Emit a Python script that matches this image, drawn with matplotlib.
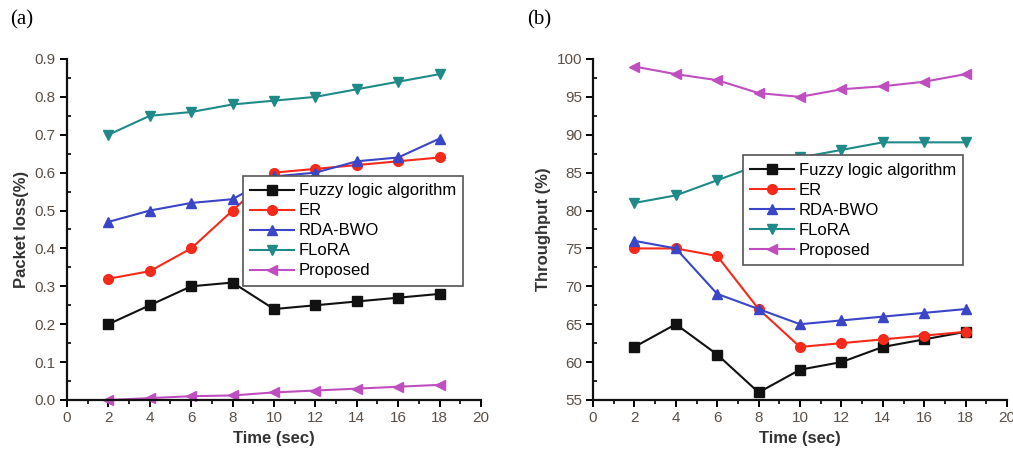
import matplotlib
matplotlib.use("Agg")
import matplotlib.pyplot as plt
from matplotlib.ticker import MultipleLocator

plt.rcParams['font.family'] = ['Liberation Sans', 'DejaVu Sans']

time = [2, 4, 6, 8, 10, 12, 14, 16, 18]
series_names = ["Fuzzy logic algorithm", "ER", "RDA-BWO", "FLoRA", "Proposed"]

loss_fuzzy = [0.20, 0.25, 0.30, 0.31, 0.24, 0.25, 0.26, 0.27, 0.28]
loss_er = [0.32, 0.34, 0.40, 0.50, 0.60, 0.61, 0.62, 0.63, 0.64]
loss_rda = [0.47, 0.50, 0.52, 0.53, 0.59, 0.60, 0.63, 0.64, 0.69]
loss_flora = [0.70, 0.75, 0.76, 0.78, 0.79, 0.80, 0.82, 0.84, 0.86]
loss_proposed = [0.0, 0.005, 0.01, 0.012, 0.02, 0.025, 0.03, 0.035, 0.04]

thr_fuzzy = [62, 65, 61, 56, 59, 60, 62, 63, 64]
thr_er = [75, 75, 74, 67, 62, 62.5, 63, 63.5, 64]
thr_rda = [76, 75, 69, 67, 65, 65.5, 66, 66.5, 67]
thr_flora = [81, 82, 84, 86, 87, 88, 89, 89, 89]
thr_proposed = [99, 98, 97.2, 95.5, 95, 96, 96.4, 97, 98]

colors = ["#111111", "#f52a1a", "#3a45c8", "#1f8a88", "#c04ec0"]
markers = ["s", "o", "^", "v", "<"]

fig = plt.figure(figsize=(10.13, 4.53), dpi=100)
ax1 = fig.add_axes([0.0661, 0.1170, 0.4087, 0.7528])
ax2 = fig.add_axes([0.5854, 0.1170, 0.4087, 0.7528])

tick_color = "#5a5048"

def style(ax, ymin, ymax, ymaj, ymin_loc, ylabel, fmt):
    ax.set_xlim(0, 20)
    ax.set_ylim(ymin, ymax)
    ax.spines['top'].set_visible(False)
    ax.spines['right'].set_visible(False)
    for s in ['left', 'bottom']:
        ax.spines[s].set_linewidth(1.6)
        ax.spines[s].set_color('#111111')
    ax.xaxis.set_major_locator(MultipleLocator(2))
    ax.xaxis.set_minor_locator(MultipleLocator(1))
    ax.yaxis.set_major_locator(MultipleLocator(ymaj))
    ax.yaxis.set_minor_locator(MultipleLocator(ymin_loc))
    ax.tick_params(axis='x', which='major', direction='out', length=5, width=1.4, labelsize=11, labelcolor=tick_color, pad=3)
    ax.tick_params(axis='x', which='minor', direction='out', length=3, width=1.2)
    ax.tick_params(axis='y', which='major', direction='out', length=5, width=1.4, labelsize=11, labelcolor=tick_color, pad=3)
    ax.tick_params(axis='y', which='minor', direction='in', length=3, width=1.2)
    ax.yaxis.set_major_formatter(plt.FormatStrFormatter(fmt))
    ax.set_xlabel("Time (sec)", fontsize=12, fontweight='bold', color='#333333', labelpad=4)
    ax.set_ylabel(ylabel, fontsize=12, fontweight='bold', color='#333333', labelpad=4)

data1 = [loss_fuzzy, loss_er, loss_rda, loss_flora, loss_proposed]
data2 = [thr_fuzzy, thr_er, thr_rda, thr_flora, thr_proposed]

for ax, data in [(ax1, data1), (ax2, data2)]:
    for name, vals, c, m in zip(series_names, data, colors, markers):
        ax.plot(time, vals, color=c, marker=m, markersize=7, linewidth=1.5, label=name, clip_on=False)

style(ax1, 0, 0.9, 0.1, 0.05, "Packet loss(%)", "%.1f")
style(ax2, 55, 100, 5, 2.5, "Throughput (%)", "%d")

for ax, anchor in [(ax1, (0.425, 0.657)), (ax2, (0.362, 0.718))]:
    leg = ax.legend(loc='upper left', bbox_to_anchor=anchor, fontsize=12, frameon=True,
                    fancybox=False, edgecolor='#555555', framealpha=1,
                    handlelength=2.6, handletextpad=0.3, labelspacing=0.3,
                    borderpad=0.45, borderaxespad=0)
    leg.get_frame().set_linewidth(1.2)

fig.text(0.010, 0.945, "(a)", fontsize=15, family='Liberation Serif')
fig.text(0.520, 0.945, "(b)", fontsize=15, family='Liberation Serif')

fig.savefig("out.png", dpi=100)
